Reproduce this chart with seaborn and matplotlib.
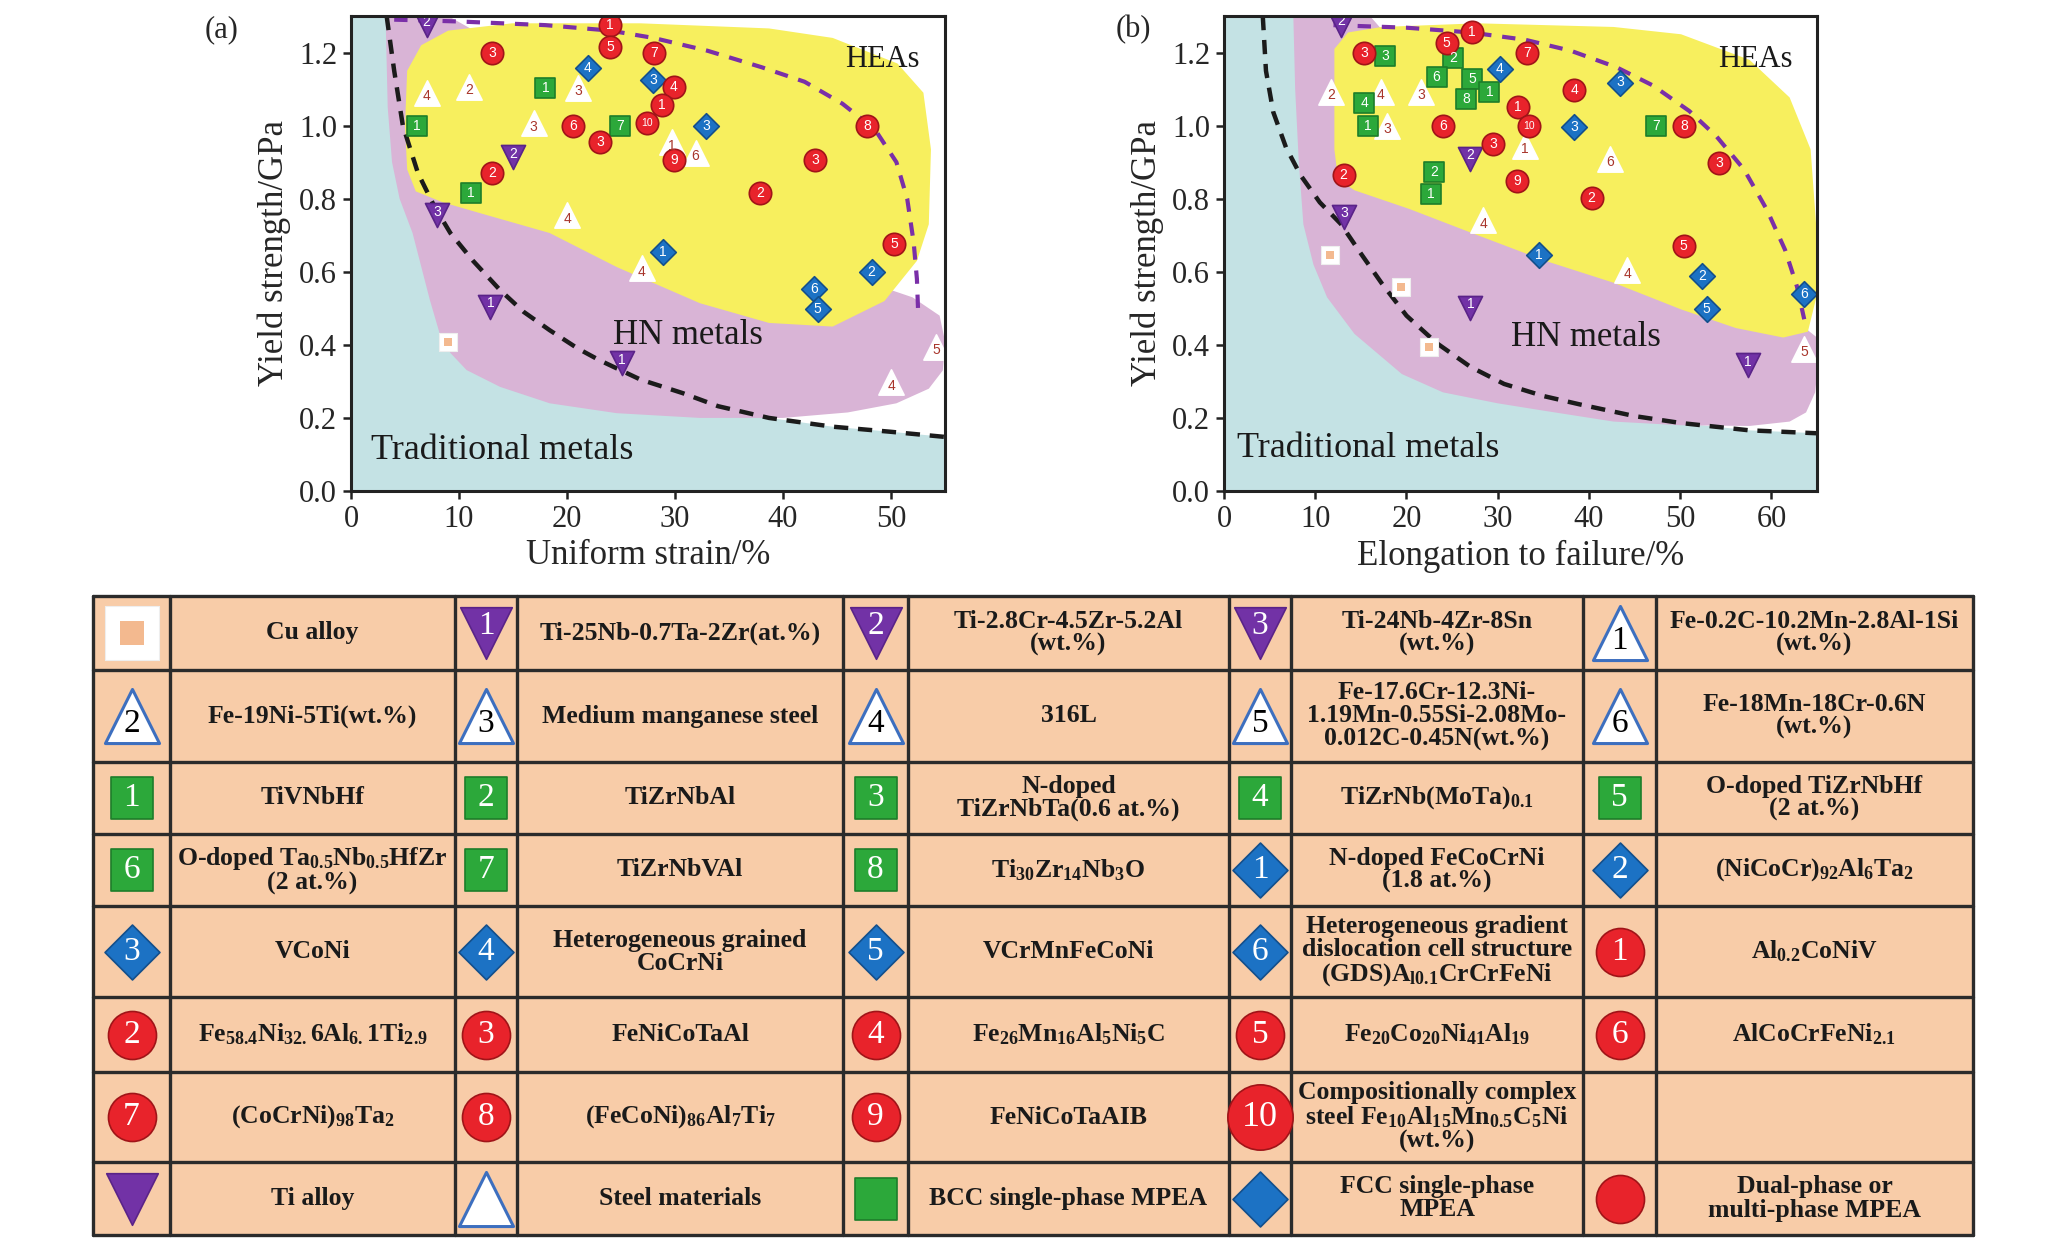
import matplotlib
matplotlib.use("Agg")
import matplotlib.pyplot as plt
from matplotlib.patches import Rectangle
import pandas as pd
import seaborn as sns

# ---- Panel (a): uniform strain vs yield strength ----
a_ti_x = [7.0, 15.0, 8.0, 12.9, 25.1]
a_ti_y = [1.275, 0.914, 0.755, 0.504, 0.35]
a_ti_n = [2, 2, 3, 1, 1]
a_steel_x = [7.0, 10.9, 21.0, 16.9, 29.7, 31.9, 20.0, 26.9, 54.2, 50.0]
a_steel_y = [1.09, 1.106, 1.103, 1.007, 0.955, 0.925, 0.755, 0.61, 0.395, 0.298]
a_steel_n = [4, 2, 3, 3, 1, 6, 4, 4, 5, 4]
a_bcc_x = [18.0, 6.1, 24.9, 11.1]
a_bcc_y = [1.103, 1.0, 1.0, 0.816]
a_bcc_n = [1, 1, 7, 1]
a_fcc_x = [21.9, 28.0, 32.9, 28.9, 48.2, 42.9, 43.2]
a_fcc_y = [1.157, 1.125, 1.0, 0.655, 0.599, 0.553, 0.497]
a_fcc_n = [4, 3, 3, 1, 2, 6, 5]
a_dual_x = [24.0, 24.0, 28.1, 13.1, 29.9, 28.8, 20.6, 27.4, 23.1, 29.9, 13.1, 43.0, 47.8, 37.9, 50.3]
a_dual_y = [1.275, 1.215, 1.20, 1.20, 1.106, 1.056, 1.0, 1.007, 0.955, 0.906, 0.87, 0.906, 1.0, 0.816, 0.675]
a_dual_n = [1, 5, 7, 3, 4, 1, 6, 10, 3, 9, 2, 3, 8, 2, 5]
a_cu_x = [9.0]
a_cu_y = [0.408]

# ---- Panel (b): elongation to failure vs yield strength ----
b_ti_x = [12.8, 27.0, 13.2, 27.0, 57.4]
b_ti_y = [1.276, 0.909, 0.75, 0.502, 0.344]
b_ti_n = [2, 2, 3, 1, 1]
b_steel_x = [11.7, 17.2, 21.6, 17.9, 33.0, 42.3, 28.4, 44.2, 63.6]
b_steel_y = [1.093, 1.093, 1.093, 1.0, 0.945, 0.909, 0.741, 0.604, 0.39]
b_steel_n = [2, 4, 3, 3, 1, 6, 4, 4, 5]
b_bcc_x = [17.7, 25.1, 23.3, 27.2, 29.1, 26.5, 15.4, 15.8, 47.4, 23.0, 22.7]
b_bcc_y = [1.19, 1.184, 1.133, 1.128, 1.093, 1.072, 1.062, 1.0, 1.0, 0.874, 0.813]
b_bcc_n = [3, 2, 6, 5, 1, 8, 4, 1, 7, 2, 1]
b_fcc_x = [30.2, 43.4, 38.4, 34.5, 52.4, 63.6, 52.9]
b_fcc_y = [1.154, 1.118, 0.995, 0.645, 0.589, 0.538, 0.497]
b_fcc_n = [4, 3, 3, 1, 2, 6, 5]
b_dual_x = [27.2, 24.4, 15.4, 33.2, 38.4, 32.2, 24.0, 33.4, 50.4, 29.5, 54.3, 13.1, 32.1, 40.3, 50.4]
b_dual_y = [1.256, 1.225, 1.20, 1.20, 1.098, 1.052, 1.0, 1.0, 1.0, 0.95, 0.899, 0.864, 0.848, 0.802, 0.67]
b_dual_n = [1, 5, 3, 7, 4, 1, 6, 10, 8, 3, 3, 2, 9, 2, 5]
b_cu_x = [11.6, 19.4, 22.5]
b_cu_y = [0.645, 0.558, 0.395]

# ---- region outlines ----
a_blue_x = [0, 55, 55, 50, 44.6, 38.7, 30, 12, 5, 4, 0]
a_blue_y = [0, 0, 0.148, 0.162, 0.176, 0.2, 0.3, 0.7, 1.1, 1.3, 1.3]
a_pink_x = [3.2, 3.4, 3.8, 4.5, 5.7, 7.3, 8.2, 9.2, 10.7, 13.8, 18.4, 24.6, 32.3, 40, 46, 50.5,
            53.5, 54.8, 55, 54.5, 52, 45, 30, 15, 9]
a_pink_y = [1.3, 1.05, 0.9, 0.8, 0.706, 0.523, 0.432, 0.378, 0.331, 0.285, 0.24, 0.213, 0.2, 0.2,
            0.215, 0.24, 0.28, 0.33, 0.41, 0.48, 0.53, 0.6, 0.9, 1.2, 1.3]
a_yel_x = [5.2, 5.0, 5.2, 6.0, 8.5, 12.0, 18.4, 24.6, 32.3, 38.7, 44.6, 49.4, 52.4, 53.5, 53.7, 53.0,
           50.6, 44.6, 38.7, 26.8, 14.9, 9.0, 6.5]
a_yel_y = [1.15, 1.0, 0.88, 0.82, 0.79, 0.76, 0.706, 0.613, 0.514, 0.46, 0.45, 0.52, 0.63, 0.73, 0.935,
           1.09, 1.17, 1.24, 1.266, 1.28, 1.28, 1.26, 1.22]
a_black_x = [3.3, 4.0, 4.8, 6.2, 7.7, 9.2, 11.3, 13.8, 16.0, 18.4, 21.0, 23.0, 26.8, 30.7, 34.0, 38.7,
             44.6, 50.0, 55.0]
a_black_y = [1.3, 1.15, 1.0, 0.87, 0.78, 0.706, 0.63, 0.55, 0.49, 0.44, 0.39, 0.358, 0.305, 0.268,
             0.232, 0.2, 0.176, 0.162, 0.148]
a_purple_x = [4, 10, 18, 24, 28, 33, 38, 42, 45.5, 48.5, 50.5, 51.5, 52.1, 52.4, 52.5]
a_purple_y = [1.29, 1.285, 1.275, 1.26, 1.24, 1.205, 1.16, 1.12, 1.06, 0.99, 0.9, 0.8, 0.68, 0.58, 0.5]

b_blue_x = [0, 65, 65, 57.6, 50.1, 45, 30, 14, 10, 9, 0]
b_blue_y = [0, 0, 0.158, 0.166, 0.186, 0.2, 0.3, 0.6, 1.0, 1.3, 1.3]
b_pink_x = [7.6, 7.8, 8.2, 8.7, 9.8, 11.3, 14.3, 19.5, 24, 30, 35, 42.7, 50, 57.6, 62, 63.8, 64.8,
            65, 65, 64, 50, 30, 16]
b_pink_y = [1.3, 1.1, 0.9, 0.73, 0.62, 0.53, 0.43, 0.32, 0.27, 0.24, 0.22, 0.19, 0.18, 0.178, 0.19,
            0.215, 0.27, 0.32, 0.42, 0.44, 0.5, 0.9, 1.3]
b_yel_x = [12.1, 12.1, 12.5, 14.3, 20.3, 27.8, 35.2, 42.7, 50.1, 56.1, 61.3, 64.0, 64.9, 64.9, 64.3,
           62.0, 57.6, 50.1, 42.7, 27.8, 17.3, 13.6]
b_yel_y = [1.21, 0.935, 0.853, 0.823, 0.772, 0.70, 0.63, 0.57, 0.497, 0.446, 0.42, 0.436, 0.527, 0.73,
           0.935, 1.077, 1.18, 1.25, 1.27, 1.28, 1.27, 1.255]
b_black_x = [4.25, 4.6, 5.4, 6.8, 8.4, 10.5, 12.8, 15.0, 17.3, 20.0, 23.3, 27.0, 30.7, 35.0, 39.0,
             45.0, 50.1, 57.6, 65.0]
b_black_y = [1.3, 1.15, 1.037, 0.94, 0.864, 0.79, 0.731, 0.65, 0.568, 0.48, 0.405, 0.34, 0.293, 0.26,
             0.237, 0.205, 0.186, 0.166, 0.158]
b_purple_x = [12, 20, 27, 33, 38, 43, 47, 51, 54, 57, 59.5, 61.5, 62.8, 63.6]
b_purple_y = [1.275, 1.268, 1.255, 1.235, 1.205, 1.16, 1.11, 1.04, 0.97, 0.88, 0.77, 0.66, 0.56, 0.47]

y_ticks = [0.0, 0.2, 0.4, 0.6, 0.8, 1.0, 1.2]
y_tick_labels = ["0.0", "0.2", "0.4", "0.6", "0.8", "1.0", "1.2"]

# ---- legend table ----
table_groups = [
    ["cu", "ti", "ti", "ti", "steel"],
    ["steel", "steel", "steel", "steel", "steel"],
    ["bcc", "bcc", "bcc", "bcc", "bcc"],
    ["bcc", "bcc", "bcc", "fcc", "fcc"],
    ["fcc", "fcc", "fcc", "fcc", "dual"],
    ["dual", "dual", "dual", "dual", "dual"],
    ["dual", "dual", "dual", "dual", None],
    ["ti", "steel", "bcc", "fcc", "dual"],
]
table_nums = [
    ["", "1", "2", "3", "1"],
    ["2", "3", "4", "5", "6"],
    ["1", "2", "3", "4", "5"],
    ["6", "7", "8", "1", "2"],
    ["3", "4", "5", "6", "1"],
    ["2", "3", "4", "5", "6"],
    ["7", "8", "9", "10", ""],
    ["", "", "", "", ""],
]
table_text = [
    ["Cu alloy", "Ti-25Nb-0.7Ta-2Zr(at.%)", "Ti-2.8Cr-4.5Zr-5.2Al\n(wt.%)",
     "Ti-24Nb-4Zr-8Sn\n(wt.%)", "Fe-0.2C-10.2Mn-2.8Al-1Si\n(wt.%)"],
    ["Fe-19Ni-5Ti(wt.%)", "Medium manganese steel", "316L",
     "Fe-17.6Cr-12.3Ni-\n1.19Mn-0.55Si-2.08Mo-\n0.012C-0.45N(wt.%)", "Fe-18Mn-18Cr-0.6N\n(wt.%)"],
    ["TiVNbHf", "TiZrNbAl", "N-doped\nTiZrNbTa(0.6 at.%)", "TiZrNb(MoTa)$_{0.1}$",
     "O-doped TiZrNbHf\n(2 at.%)"],
    ["O-doped Ta$_{0.5}$Nb$_{0.5}$HfZr\n(2 at.%)", "TiZrNbVAl", "Ti$_{30}$Zr$_{14}$Nb$_{3}$O",
     "N-doped FeCoCrNi\n(1.8 at.%)", "(NiCoCr)$_{92}$Al$_{6}$Ta$_{2}$"],
    ["VCoNi", "Heterogeneous grained\nCoCrNi", "VCrMnFeCoNi",
     "Heterogeneous gradient\ndislocation cell structure\n(GDS)A$_{l0.1}$CrCrFeNi", "Al$_{0.2}$CoNiV"],
    ["Fe$_{58.4}$Ni$_{32.}$6Al$_{6.}$1Ti$_{2.9}$", "FeNiCoTaAl", "Fe$_{26}$Mn$_{16}$Al$_{5}$Ni$_{5}$C",
     "Fe$_{20}$Co$_{20}$Ni$_{41}$Al$_{19}$", "AlCoCrFeNi$_{2.1}$"],
    ["(CoCrNi)$_{98}$Ta$_{2}$", "(FeCoNi)$_{86}$Al$_{7}$Ti$_{7}$", "FeNiCoTaAIB",
     "Compositionally complex\nsteel Fe$_{10}$Al$_{15}$Mn$_{0.5}$C$_{5}$Ni\n(wt.%)", ""],
    ["Ti alloy", "Steel materials", "BCC single-phase MPEA", "FCC single-phase\nMPEA",
     "Dual-phase or\nmulti-phase MPEA"],
]

LIGHT_BLUE = "#c4e2e4"
PINK = "#d9b4d6"
YELLOW = "#f7ef5e"
PEACH = "#f8cca8"

STYLE = {
    "ti": dict(marker="v", color="#7232a6", edge="#5a2388", s=300, txt="white", dy=2.5),
    "steel": dict(marker="^", color="white", edge="white", s=330, txt="#a8352b", dy=-2.5),
    "bcc": dict(marker="s", color="#2ca83a", edge="#1d7d2a", s=200, txt="white", dy=0),
    "fcc": dict(marker="D", color="#1c72c4", edge="#134f8c", s=170, txt="white", dy=0),
    "dual": dict(marker="o", color="#e8232b", edge="#a01418", s=260, txt="white", dy=0),
}

sns.set_theme(style="ticks")
plt.rcParams["font.family"] = ["Liberation Serif", "DejaVu Serif"]
plt.rcParams["mathtext.fontset"] = "custom"
plt.rcParams["mathtext.rm"] = "Liberation Serif:bold"
plt.rcParams["mathtext.default"] = "rm"


def points_frame(groups):
    rows = []
    for g, (xs, ys, ns) in groups.items():
        for x, y, n in zip(xs, ys, ns):
            rows.append({"x": x, "y": y, "group": g, "num": str(n)})
    return pd.DataFrame(rows)


def draw_marks(ax, df, scale=1.0, num_size=10, num_font="Liberation Sans", table=False):
    for g, st in STYLE.items():
        sub = df[df["group"] == g]
        if sub.empty:
            continue
        edge = st["edge"]
        lw = 1.2
        if table and g == "steel":
            edge, lw = "#3d6fbf", 2.2
        sns.scatterplot(data=sub, x="x", y="y", marker=st["marker"], s=st["s"] * scale,
                        color=st["color"], edgecolor=edge, linewidth=lw, ax=ax,
                        legend=False, zorder=5)
        txt_col = "black" if (table and g == "steel") else st["txt"]
        for _, r in sub.iterrows():
            if not r["num"]:
                continue
            fs = num_size * (0.75 if r["num"] == "10" and not table else 1.0)
            ax.annotate(r["num"], (r["x"], r["y"]), xytext=(0, st["dy"] * scale ** 0.5),
                        textcoords="offset points", ha="center", va="center",
                        fontsize=fs, color=txt_col, family=num_font, zorder=6,
                        annotation_clip=False)


def draw_cu(ax, xs, ys, s_out, s_in):
    ax.scatter(xs, ys, marker="s", s=s_out, color="white", edgecolor="#eeeeee",
               linewidth=0.8, zorder=5)
    ax.scatter(xs, ys, marker="s", s=s_in, color="#f3b98f", linewidth=0, zorder=6)


def draw_panel(ax, xmax, xticks, blue, pink, yel, black, purple, pts, cu, labels, xlabel):
    ax.set_facecolor("white")
    ax.fill(blue[0], blue[1], color=LIGHT_BLUE, lw=0, zorder=0.5)
    ax.fill(pink[0], pink[1], color=PINK, lw=0, zorder=0.6)
    ax.fill(yel[0], yel[1], color=YELLOW, lw=0, zorder=0.7)
    ax.plot(black[0], black[1], color="#1b1b1b", lw=3.2, ls=(0, (3.2, 2.2)), zorder=2)
    ax.plot(purple[0], purple[1], color="#7a2fa8", lw=3.0, ls=(0, (3.2, 2.6)), zorder=2)
    draw_cu(ax, cu[0], cu[1], 150, 30)
    draw_marks(ax, points_frame(pts))
    for (tx, ty, t, fs) in labels:
        ax.text(tx, ty, t, fontsize=fs, ha="center", va="center", color="#1a1a1a", zorder=4)
    ax.set_xlim(0, xmax)
    ax.set_ylim(0, 1.3)
    ax.set_xticks(xticks)
    ax.set_xticklabels([str(v) for v in xticks])
    ax.set_yticks(y_ticks)
    ax.set_yticklabels(y_tick_labels)
    ax.tick_params(labelsize=22, length=6, width=1.8, color="#222222", pad=4)
    ax.set_xlabel(xlabel, fontsize=25, labelpad=4)
    ax.set_ylabel("Yield strength/GPa", fontsize=25, labelpad=6)
    for sp in ax.spines.values():
        sp.set_visible(True)
        sp.set_linewidth(2.2)
        sp.set_color("#222222")
        sp.set_zorder(8)


fig = plt.figure(figsize=(20.58, 12.45), dpi=100)

# ---- table axis in pixel coordinates ----
axt = fig.add_axes([0, 0, 1, 1])
axt.set_xlim(0, 2058)
axt.set_ylim(1245, 0)
axt.axis("off")

col_edges = [93, 170, 455, 517, 843, 908, 1229, 1291, 1583, 1656, 1973]
row_edges = [596, 670, 762, 834, 906, 997, 1072, 1162, 1235]
axt.add_patch(Rectangle((col_edges[0], row_edges[0]), col_edges[-1] - col_edges[0],
                        row_edges[-1] - row_edges[0], facecolor=PEACH, edgecolor="none", zorder=1))
for r in row_edges:
    axt.plot([col_edges[0], col_edges[-1]], [r, r], color="#2b2b2b", lw=2.4, zorder=2)
for c in col_edges:
    axt.plot([c, c], [row_edges[0], row_edges[-1]], color="#2b2b2b", lw=2.4, zorder=2)

icon_rows = []
cu_pos = None
for i in range(len(table_groups)):
    yc = (row_edges[i] + row_edges[i + 1]) / 2
    for j in range(5):
        xi = (col_edges[2 * j] + col_edges[2 * j + 1]) / 2
        xl = (col_edges[2 * j + 1] + col_edges[2 * j + 2]) / 2
        g = table_groups[i][j]
        if g == "cu":
            cu_pos = (xi, yc)
        elif g is not None:
            icon_rows.append({"x": xi, "y": yc, "group": g, "num": table_nums[i][j]})
        if table_text[i][j]:
            axt.text(xl, yc, table_text[i][j], ha="center", va="center", fontsize=18.5,
                     fontweight="bold", linespacing=1.0, color="#1a1a1a", zorder=3)

icons = pd.DataFrame(icon_rows)
big = icons[icons["num"] == "10"]
draw_marks(axt, icons[icons["num"] != "10"], scale=4.6, num_size=24,
           num_font="Liberation Serif", table=True)
draw_marks(axt, big, scale=8.5, num_size=26, num_font="Liberation Serif", table=True)
draw_cu(axt, [cu_pos[0]], [cu_pos[1]], 1500, 300)

# ---- panel (a) ----
ax_a = fig.add_axes([351 / 2058, 1 - 491 / 1245, 594 / 2058, 475 / 1245])
draw_panel(
    ax_a, 55, [0, 10, 20, 30, 40, 50],
    (a_blue_x, a_blue_y), (a_pink_x, a_pink_y), (a_yel_x, a_yel_y),
    (a_black_x, a_black_y), (a_purple_x, a_purple_y),
    {"ti": (a_ti_x, a_ti_y, a_ti_n), "steel": (a_steel_x, a_steel_y, a_steel_n),
     "bcc": (a_bcc_x, a_bcc_y, a_bcc_n), "fcc": (a_fcc_x, a_fcc_y, a_fcc_n),
     "dual": (a_dual_x, a_dual_y, a_dual_n)},
    (a_cu_x, a_cu_y),
    [(49.2, 1.18, "HEAs", 22), (31.2, 0.425, "HN metals", 25), (14.0, 0.11, "Traditional metals", 26)],
    "Uniform strain/%",
)

# ---- panel (b) ----
ax_b = fig.add_axes([1224 / 2058, 1 - 491 / 1245, 593 / 2058, 475 / 1245])
draw_panel(
    ax_b, 65, [0, 10, 20, 30, 40, 50, 60],
    (b_blue_x, b_blue_y), (b_pink_x, b_pink_y), (b_yel_x, b_yel_y),
    (b_black_x, b_black_y), (b_purple_x, b_purple_y),
    {"ti": (b_ti_x, b_ti_y, b_ti_n), "steel": (b_steel_x, b_steel_y, b_steel_n),
     "bcc": (b_bcc_x, b_bcc_y, b_bcc_n), "fcc": (b_fcc_x, b_fcc_y, b_fcc_n),
     "dual": (b_dual_x, b_dual_y, b_dual_n)},
    (b_cu_x, b_cu_y),
    [(58.2, 1.18, "HEAs", 22), (39.7, 0.42, "HN metals", 25), (15.8, 0.115, "Traditional metals", 26)],
    "Elongation to failure/%",
)

fig.text(222 / 2058, 1 - 30 / 1245, "(a)", fontsize=22, ha="center", va="center")
fig.text(1133 / 2058, 1 - 30 / 1245, "(b)", fontsize=22, ha="center", va="center")

fig.savefig("out.png", dpi=100)
